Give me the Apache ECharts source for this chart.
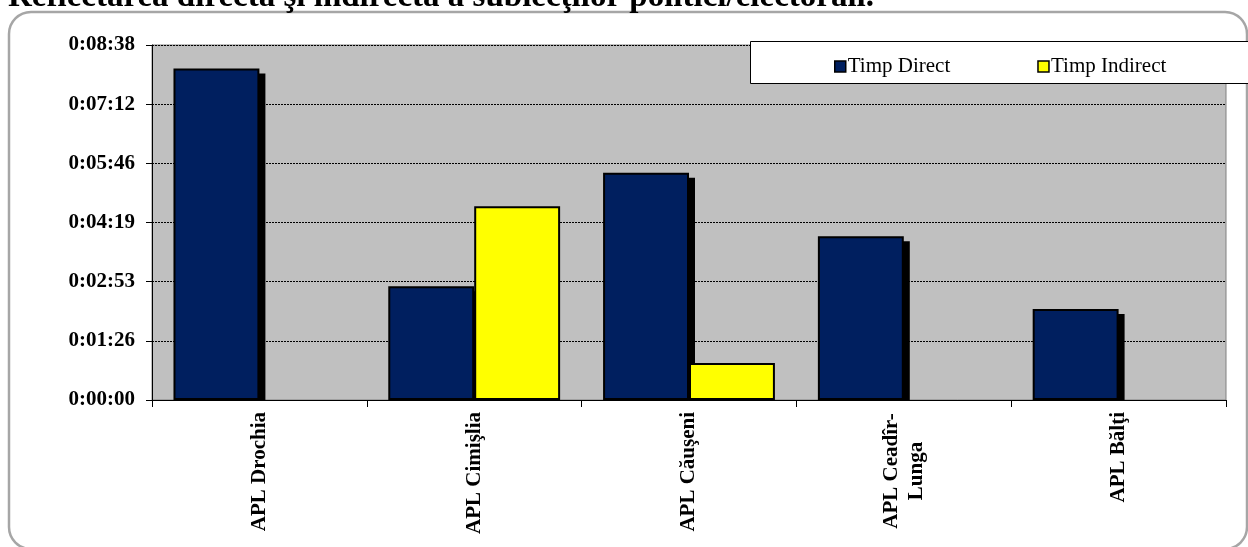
<!DOCTYPE html>
<html>
<head>
<meta charset="utf-8">
<script src="https://cdn.jsdelivr.net/npm/echarts@6/dist/echarts.min.js"></script>
<style>
html,body{margin:0;padding:0;background:#fff;}
#c{width:1248px;height:547px;}
</style>
</head>
<body>
<div id="c"></div>
<script>
const titleText = 'Reflectarea directă şi indirectă a subiecţilor politici/electorali.';
const categories = ['APL Drochia', 'APL Cimişlia', 'APL Căuşeni', 'APL Ceadîr-\nLunga', 'APL Bălţi'];
const seriesNames = ['Timp Direct', 'Timp Indirect'];
// durations in seconds
const timpDirect = [484, 166, 332, 239, 133];
const timpIndirect = [0, 283, 54, 0, 0];
// y axis: 0:00:00 .. 0:08:38, step 0:01:26.4 (1/1000 of a day)
const yMin = 0, yMax = 518.4, yStep = 86.4;

function fmt(v) {
  const s = Math.round(v);
  const h = Math.floor(s / 3600);
  const m = Math.floor((s % 3600) / 60);
  const sec = s % 60;
  return h + ':' + String(m).padStart(2, '0') + ':' + String(sec).padStart(2, '0');
}

const font = '"Liberation Serif","Times New Roman",serif';
const BAR_FRAC = 0.4; // each bar = 40% of the category band (barCategoryGap 20%, barGap 0)

const xData = categories.map(function (c) {
  if (c.indexOf('\n') >= 0) {
    return {value: c, textStyle: {align: 'center', padding: [0, 118, 0, 0]}};
  }
  return c;
});

const chart = echarts.init(document.getElementById('c'));
chart.setOption({
  animation: false,
  backgroundColor: '#ffffff',
  title: {
    text: titleText,
    left: 8,
    top: -19,
    padding: 0,
    textStyle: {fontFamily: font, fontWeight: 'bold', fontSize: 33, color: '#000'}
  },
  graphic: [
    {
      type: 'rect', z: -10, silent: true,
      shape: {x: 9, y: 12, width: 1238, height: 537, r: 22},
      style: {fill: '#ffffff', stroke: '#a6a6a6', lineWidth: 2.5}
    },
    {
      type: 'rect', z: 5, silent: true,
      shape: {x: 750.5, y: 41.5, width: 520, height: 42},
      style: {fill: '#ffffff', stroke: '#000', lineWidth: 1}
    }
  ],
  legend: {
    data: seriesNames,
    left: 829,
    top: 51,
    z: 10,
    itemGap: 87,
    itemWidth: 11,
    itemHeight: 11,
    icon: 'rect',
    textStyle: {fontFamily: font, fontSize: 21, color: '#000', padding: [0, 0, 0, -3]},
    itemStyle: {borderColor: '#000', borderWidth: 1.5}
  },
  grid: {
    left: 152, top: 45, right: 22, bottom: 147,
    show: true, backgroundColor: '#C0C0C0', borderColor: '#808080', borderWidth: 1
  },
  xAxis: {
    type: 'category',
    data: xData,
    axisLine: {lineStyle: {color: '#000', width: 1}},
    axisTick: {show: true, length: 7, lineStyle: {color: '#000'}},
    axisLabel: {
      rotate: 90, margin: 12, interval: 0,
      fontFamily: font, fontWeight: 'bold', fontSize: 21, color: '#000', lineHeight: 25
    }
  },
  yAxis: {
    type: 'value',
    min: yMin, max: yMax, interval: yStep,
    axisLine: {show: true, lineStyle: {color: '#000', width: 1}},
    axisTick: {show: true, length: 6, lineStyle: {color: '#000'}},
    axisLabel: {
      formatter: fmt, margin: 17,
      fontFamily: font, fontWeight: 'bold', fontSize: 21, color: '#000'
    },
    splitLine: {show: true, lineStyle: {color: '#000', width: 1, type: [2, 1]}}
  },
  series: [
    {
      // drop shadow behind the "Timp Direct" bars
      name: 'shadow', type: 'custom', z: 1, silent: true,
      data: timpDirect.map(function (v, i) { return [i, v]; }),
      encode: {x: 0, y: 1},
      renderItem: function (params, api) {
        const i = api.value(0), v = api.value(1);
        if (!v) return null;
        const band = api.size([1, 0])[0];
        const bw = band * BAR_FRAC;
        const top = api.coord([i, v]);
        const base = api.coord([i, 0]);
        return {
          type: 'rect',
          shape: {x: top[0] - bw + 6, y: top[1] + 5, width: bw, height: base[1] - top[1] - 5},
          style: {fill: '#000'}
        };
      }
    },
    {
      name: seriesNames[0], type: 'bar', z: 2,
      data: timpDirect.map(function (v) { return v === 0 ? null : v; }),
      barGap: '0%', barCategoryGap: '20%',
      itemStyle: {color: '#001F5F', borderColor: '#000', borderWidth: 2}
    },
    {
      name: seriesNames[1], type: 'bar', z: 3,
      data: timpIndirect.map(function (v) { return v === 0 ? null : v; }),
      barGap: '0%', barCategoryGap: '20%',
      itemStyle: {color: '#FFFF00', borderColor: '#000', borderWidth: 2}
    }
  ]
});
</script>
</body>
</html>
